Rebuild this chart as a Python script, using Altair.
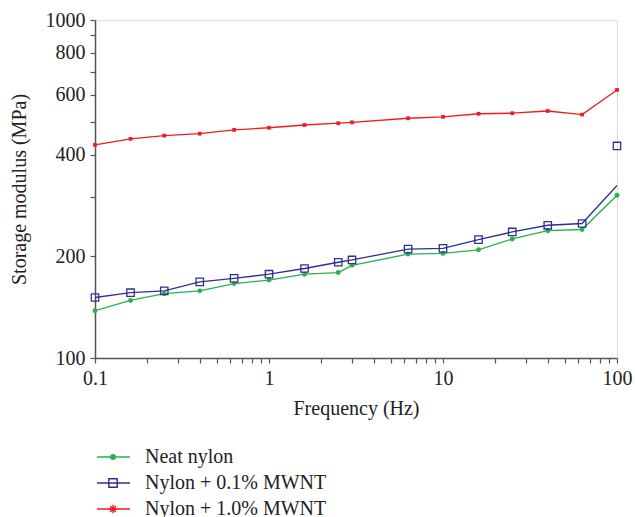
import altair as alt
import pandas as pd

# ---- data ----
freq = [0.1, 0.16, 0.25, 0.4, 0.63, 1, 1.6, 2.5, 3, 6.3, 10, 16, 25, 40, 63, 100]
neat_nylon = [138, 148, 155, 158, 166, 170, 177, 179, 188, 203, 204, 209, 225, 238, 240, 303]
nylon_01 = [151, 156, 158, 168, 172, 177, 184, 192, 195, 210, 211, 224, 236, 247, 250, 324]
nylon_01_marker_at_100 = 424
nylon_10 = [427, 445, 455, 461, 473, 480, 489, 495, 498, 512, 517, 528, 530, 538, 525, 621]

series_names = ["Neat nylon", "Nylon + 0.1% MWNT", "Nylon + 1.0% MWNT"]
series_colors = ["#27b24a", "#2e3192", "#ed1c24"]

x_tick_values = [0.1, 0.2, 0.3, 0.4, 0.5, 0.6, 0.7, 0.8, 0.9,
                 1, 2, 3, 4, 5, 6, 7, 8, 9,
                 10, 20, 30, 40, 50, 60, 70, 80, 90, 100]
x_tick_labels = [0.1, 1, 10, 100]
y_tick_values = [100, 200, 300, 400, 500, 600, 700, 800, 900, 1000]
y_tick_labels = [100, 200, 400, 600, 800, 1000]

FONT = "Liberation Serif"
FS = 20
AX = "#555555"

df_neat = pd.DataFrame({"f": freq, "v": neat_nylon})
df_01 = pd.DataFrame({"f": freq, "v": nylon_01})
df_01_pts = pd.DataFrame({"f": freq[:-1] + [freq[-1]],
                          "v": nylon_01[:-1] + [nylon_01_marker_at_100]})
df_10 = pd.DataFrame({"f": freq, "v": nylon_10})

def lbl_expr(vals):
    cond = " || ".join(f"datum.value == {v}" for v in vals)
    return f"({cond}) ? datum.label : ''"

xscale = alt.Scale(type="log", domain=[0.1, 100], nice=False)
yscale = alt.Scale(type="log", domain=[100, 1000], nice=False)

xaxis = alt.Axis(title="Frequency (Hz)", values=x_tick_values, format="~g",
                 labelExpr=lbl_expr(x_tick_labels), labelOverlap=False,
                 grid=False, tickSize=5, domainColor=AX, tickColor=AX,
                 domainWidth=1.5, tickWidth=1.2, labelFont=FONT, titleFont=FONT,
                 labelFontSize=FS, titleFontSize=FS, titleFontWeight="normal",
                 labelColor="#222", titleColor="#222", labelPadding=5, titlePadding=10,
                 labelFlush=False)
yaxis = alt.Axis(title="Storage modulus (MPa)", values=y_tick_values, format="~g",
                 labelExpr=lbl_expr(y_tick_labels), labelOverlap=False,
                 grid=False, tickSize=5, domainColor=AX, tickColor=AX,
                 domainWidth=1.5, tickWidth=1.2, labelFont=FONT, titleFont=FONT,
                 labelFontSize=FS, titleFontSize=FS, titleFontWeight="normal",
                 labelColor="#222", titleColor="#222", labelPadding=5, titlePadding=16)

X = alt.X("f:Q", scale=xscale, axis=xaxis)
Y = alt.Y("v:Q", scale=yscale, axis=yaxis)

def line(df, color):
    return alt.Chart(df).mark_line(color=color, strokeWidth=1.3, clip=True).encode(x=X, y=Y)

layers = [
    line(df_neat, series_colors[0]),
    alt.Chart(df_neat).mark_point(shape="circle", filled=True, color=series_colors[0],
                                  size=24, opacity=1).encode(x=X, y=Y),
    line(df_01, series_colors[1]),
    alt.Chart(df_01_pts).mark_point(shape="square", filled=False, color=series_colors[1],
                                    size=55, strokeWidth=1.3, opacity=1).encode(x=X, y=Y),
    line(df_10, series_colors[2]),
    alt.Chart(df_10).mark_point(shape="square", filled=True, color=series_colors[2],
                                size=14, opacity=1).encode(x=X, y=Y),
]

# ---- legend below the plot ----
asterisk = "M-1,0L1,0M0,-1L0,1M-0.7,-0.7L0.7,0.7M-0.7,0.7L0.7,-0.7"
legend_shapes = [("circle", True, 36), ("square", False, 70), (asterisk, False, 70)]
legend_rows_y = [437, 463, 489]
one = pd.DataFrame({"k": [0]})
for name, color, (shape, filled, size), ly in zip(series_names, series_colors, legend_shapes, legend_rows_y):
    layers.append(alt.Chart(one).mark_rule(color=color, strokeWidth=1.3).encode(
        x=alt.value(2), x2=alt.value(35), y=alt.value(ly)))
    layers.append(alt.Chart(one).mark_point(shape=shape, filled=filled, color=color,
                                            size=size, opacity=1, strokeWidth=1.4).encode(
        x=alt.value(18), y=alt.value(ly)))
    layers.append(alt.Chart(pd.DataFrame({"t": [name]})).mark_text(
        align="left", baseline="middle", font=FONT, fontSize=FS, color="#222").encode(
        x=alt.value(50), y=alt.value(ly), text="t:N"))

chart = alt.layer(*layers).properties(
    width=522, height=338,
    autosize=alt.AutoSizeParams(type="none"),
    padding={"left": 95, "top": 20, "right": 18, "bottom": 159},
).configure_view(stroke=AX, strokeWidth=1.5).configure(background="white")

chart.save("out.html", embed_options={"renderer": "svg", "actions": False})
